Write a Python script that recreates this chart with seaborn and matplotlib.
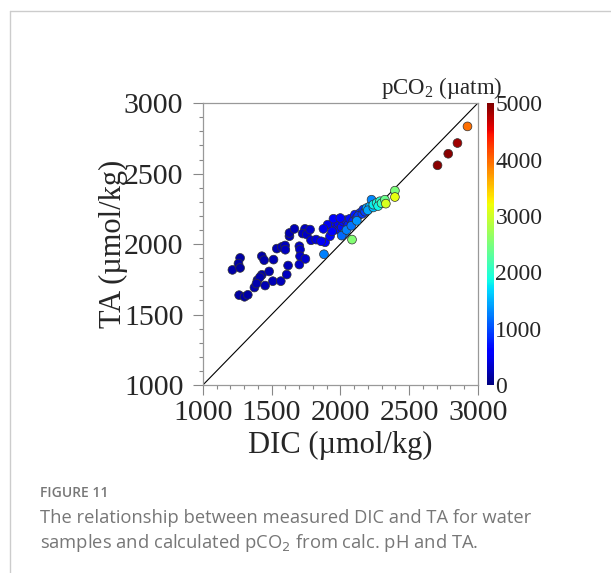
import numpy as np
import pandas as pd
import matplotlib
matplotlib.use('Agg')
import matplotlib.pyplot as plt
import seaborn as sns
from matplotlib.lines import Line2D
from matplotlib.ticker import MultipleLocator

# measured DIC (umol/kg), TA (umol/kg) and calculated pCO2 (uatm)
dic = [1215, 1271, 1259, 1271, 1264, 1303, 1327, 1375, 1397, 1429,
       1453, 1482, 1509, 1567, 1610, 1620, 1429, 1446, 1514, 1538,
       1574, 1598, 1630, 1630, 1666, 1702, 1707, 1707, 1702, 1746,
       1743, 1726, 1756, 1780, 1787, 1824, 1415, 1390, 1600,
       1889, 1908, 1925, 1877, 1966, 1969, 1998, 1940, 1985, 2010,
       2020, 2040, 2058, 2070, 2094, 2106, 2119, 2143, 2130, 2160,
       2167, 2180, 1860, 1950, 2000,
       1881, 2027, 2010, 2045, 2080, 2120, 2191, 2215, 2200, 2240, 2227,
       2240, 2264, 2288, 2275, 2300,
       2085, 2324, 2331, 2397, 2397,
       2707, 2785, 2852, 2925]
ta = [1817, 1902, 1862, 1831, 1638, 1626, 1640, 1692, 1744, 1782,
      1706, 1806, 1737, 1737, 1784, 1848, 1914, 1886, 1890, 1968,
      1980, 1990, 2056, 2079, 2108, 1985, 1961, 1914, 1855, 1895,
      2108, 2075, 2068, 2103, 2027, 2032, 1765, 1720, 1960,
      2013, 2138, 2056, 2108, 2138, 2103, 2103, 2090, 2150, 2120,
      2160, 2170, 2138, 2180, 2162, 2209, 2186, 2221, 2200, 2215,
      2245, 2230, 2020, 2180, 2185,
      1928, 2075, 2060, 2100, 2130, 2165, 2256, 2268, 2240, 2260, 2315,
      2280, 2292, 2304, 2270, 2290,
      2032, 2315, 2287, 2379, 2334,
      2559, 2641, 2717, 2835]
pco2 = [180, 160, 170, 150, 170, 160, 170, 200, 210, 190,
        220, 200, 240, 260, 280, 250, 190, 200, 230, 220,
        240, 260, 240, 230, 250, 300, 310, 330, 320, 340,
        300, 290, 310, 320, 380, 400, 200, 210, 280,
        550, 500, 650, 480, 600, 620, 680, 600, 620, 700,
        680, 720, 760, 700, 800, 760, 820, 850, 880, 900,
        850, 950, 520, 560, 640,
        1250, 1300, 1150, 1250, 1200, 1350, 1400, 1500, 1450, 1550, 1300,
        1800, 1900, 2000, 1850, 2100,
        2550, 2400, 3050, 2500, 3150,
        4950, 4950, 4850, 3950]

df = pd.DataFrame({'DIC': dic, 'TA': ta, 'pCO2': pco2})
jet = plt.get_cmap('jet')

sns.set_style('ticks')
plt.rcParams['font.family'] = ['Liberation Serif', 'DejaVu Serif']
plt.rcParams['mathtext.fontset'] = 'custom'
plt.rcParams['mathtext.rm'] = 'Liberation Serif'

fig = plt.figure(figsize=(6.11, 5.73), dpi=100)
ax = fig.add_axes([0.332, 0.328, 0.450, 0.492])
cax = fig.add_axes([487 / 611, 0.328, 7 / 611, 0.492])

# 1:1 line
ax.plot([1000, 3000], [1000, 3000], color='black', lw=0.8, zorder=1)

sns.scatterplot(data=df, x='DIC', y='TA', hue='pCO2', palette=jet,
                hue_norm=(0, 5000), s=40, edgecolor='#333333',
                linewidth=0.5, legend=False, ax=ax, zorder=3)

ax.set_xlim(1000, 3000)
ax.set_ylim(1000, 3000)
ax.xaxis.set_major_locator(MultipleLocator(500))
ax.yaxis.set_major_locator(MultipleLocator(500))
ax.xaxis.set_minor_locator(MultipleLocator(100))
ax.yaxis.set_minor_locator(MultipleLocator(100))
ax.tick_params(which='major', direction='out', length=7, width=0.8,
               color='#888888', labelsize=21.5, bottom=True, left=True)
ax.tick_params(axis='y', which='major', pad=7)
ax.tick_params(axis='x', which='major', pad=4)
ax.tick_params(which='minor', direction='out', length=3, width=0.8,
               color='#888888', bottom=True, left=True)
for sp in ax.spines.values():
    sp.set_visible(True)
    sp.set_color('#999999')
    sp.set_linewidth(0.9)
ax.set_xlabel('DIC (µmol/kg)', fontsize=22, labelpad=3)
ax.set_ylabel('TA (µmol/kg)', fontsize=22, labelpad=-3)

# colour bar
sm = plt.cm.ScalarMappable(cmap=jet, norm=plt.Normalize(0, 5000))
cb = fig.colorbar(sm, cax=cax, ticks=[0, 1000, 2000, 3000, 4000, 5000])
cb.outline.set_visible(False)
cax.tick_params(length=0, labelsize=17, pad=1)
fig.text(442 / 611, 1 - 88 / 573, 'pCO$_2$ (µatm)', fontsize=16.5,
         ha='center', va='center')

# page frame and caption
fig.add_artist(Line2D([10 / 611, 10 / 611], [0, 1 - 11 / 573],
                      color='#cccccc', lw=1, transform=fig.transFigure))
fig.add_artist(Line2D([10 / 611, 1], [1 - 11 / 573, 1 - 11 / 573],
                      color='#cccccc', lw=1, transform=fig.transFigure))
fig.text(40 / 611, 1 - 493 / 573, 'FIGURE 11', family='Open Sans',
         fontsize=10, color='#777777', weight='semibold', va='center')
fig.text(40 / 611, 1 - 518 / 573,
         'The relationship between measured DIC and TA for water',
         family='Open Sans', fontsize=13.2, color='#777777', va='center')
fig.text(40 / 611, 1 - 543 / 573,
         'samples and calculated pCO$_2$ from calc. pH and TA.',
         family='Open Sans', fontsize=13.2, color='#777777', va='center',
         math_fontfamily='dejavusans')

fig.savefig('out.png', dpi=100)
